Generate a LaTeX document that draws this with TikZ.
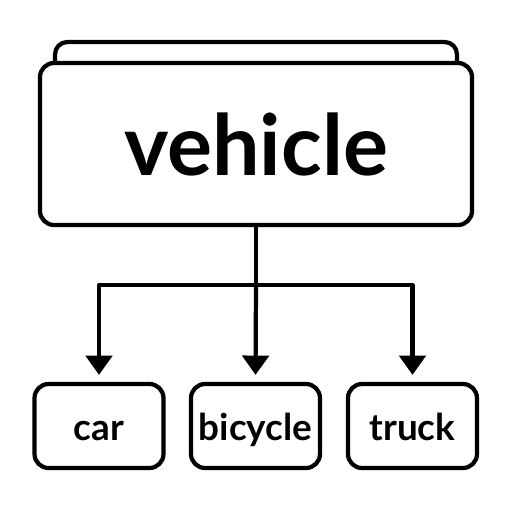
\documentclass[tikz,border=0pt]{standalone}
\usepackage{fontspec}
\setmainfont{Lato}
\usetikzlibrary{arrows.meta}

\tikzset{
  box/.style={draw, line width=2.4pt, rounded corners=8pt, fill=white, font=\bfseries},
  leaf/.style={box, minimum width=129*0.02cm, minimum height=84*0.02cm, inner sep=2pt, text height=16pt, text depth=0pt,
    font=\bfseries\fontsize{21}{21}\selectfont},
  link/.style={line width=2.4pt, line join=round, -{Triangle[length=11pt, width=15pt]}, shorten >=4pt}
}

\begin{document}
\begin{tikzpicture}[x=0.02cm, y=-0.02cm]
\useasboundingbox (0,0) rectangle (512,512);
\node[box, minimum width=402*0.02cm, minimum height=40*0.02cm, rounded corners=7pt] (backtab) at (256,62) {};
\node[box, minimum width=432*0.02cm, minimum height=162*0.02cm, font=\bfseries\fontsize{48}{48}\selectfont] (vehicle) at (256,144) {vehicle};
\coordinate (split) at (256,285);
\node[leaf] (car) at (99,426) {car};
\node[leaf] (bicycle) at (255.5,426) {bicycle};
\node[leaf] (truck) at (412.5,426) {truck};
\draw[line width=2.4pt] (vehicle.south) -- (split);
\draw[link] (split) -| (car.north);
\draw[link] (split) -- (bicycle.north);
\draw[link] (split) -| (truck.north);
\end{tikzpicture}
\end{document}
